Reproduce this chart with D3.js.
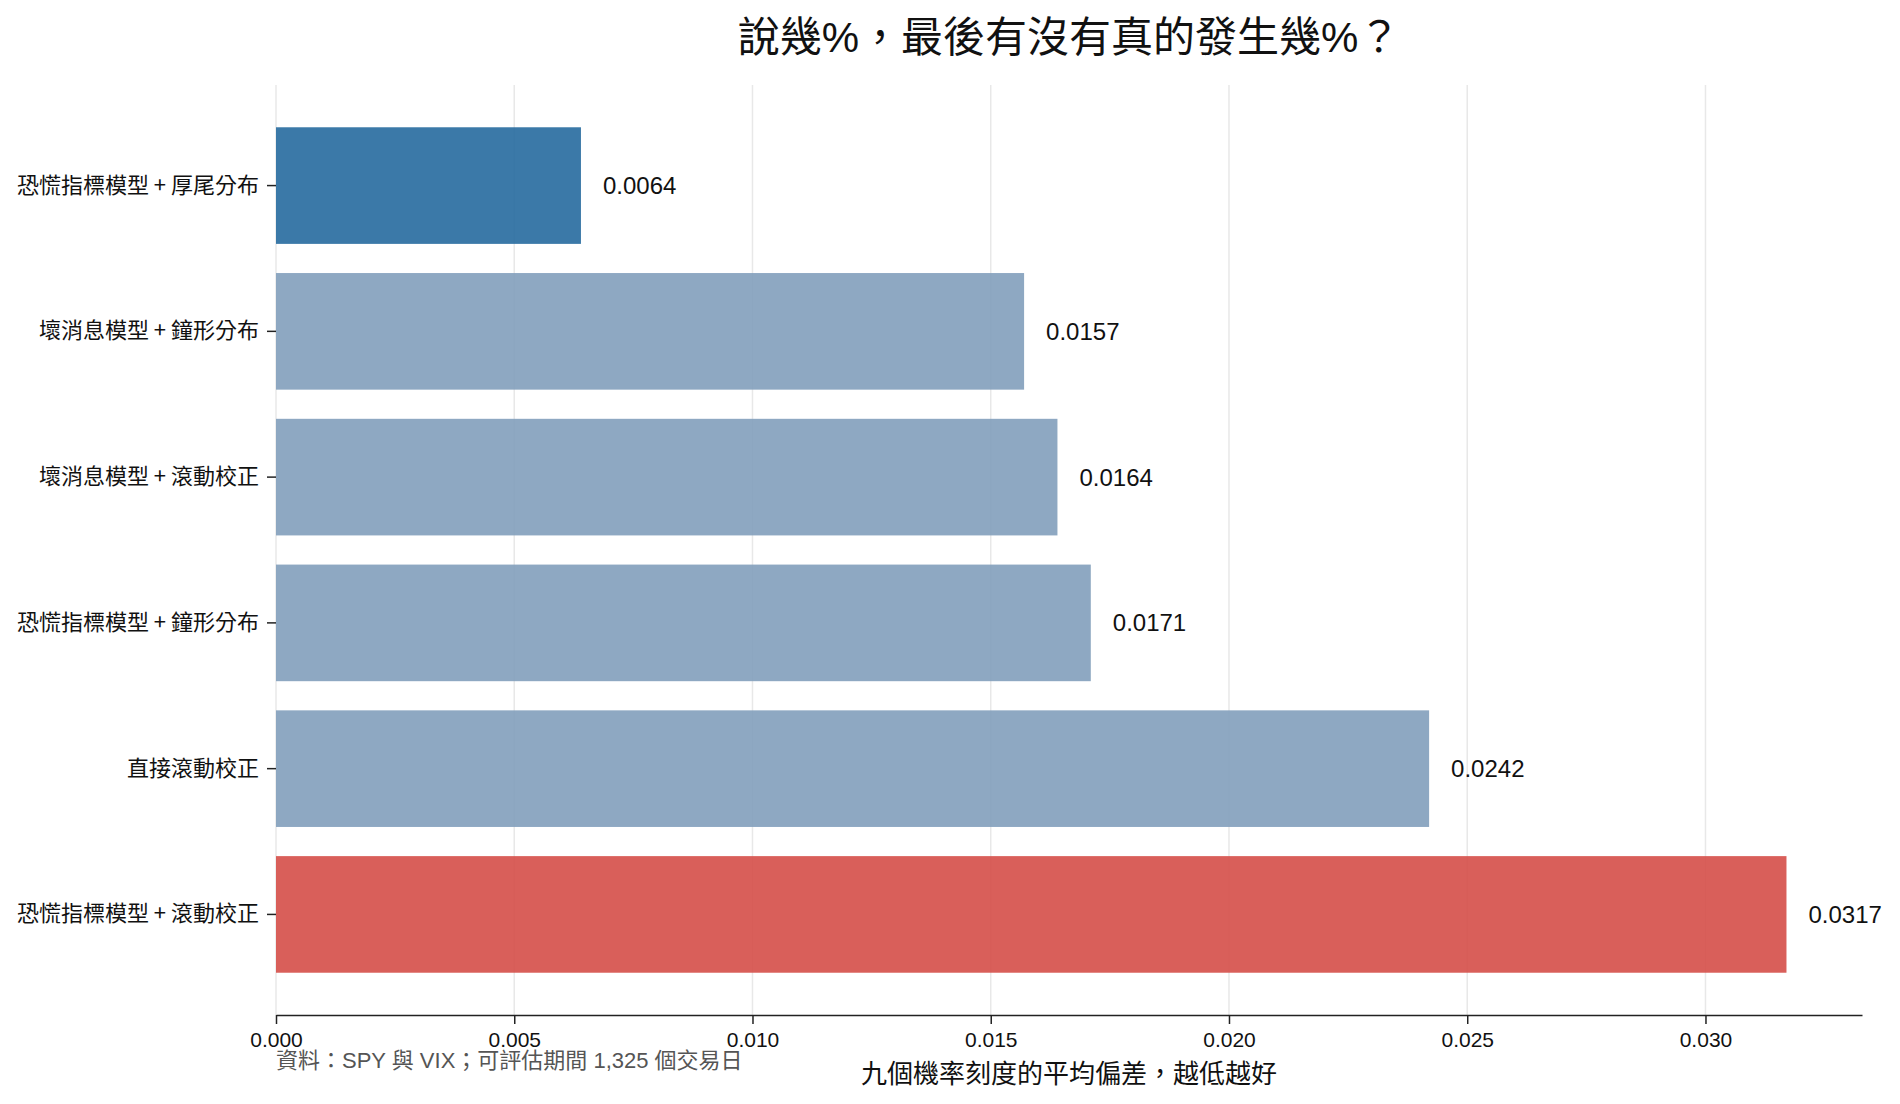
<!DOCTYPE html>
<html>
<head>
<meta charset="utf-8">
<script src="https://cdn.jsdelivr.net/npm/d3@7"></script>
<style>
  body { margin: 0; background: #fff; }
  svg { display: block; font-family: "Liberation Sans", Arial, "Noto Sans CJK TC", sans-serif; }
</style>
</head>
<body>
<svg width="1900" height="1104"></svg>
<script>
"use strict";

const categories = [
    "恐慌指標模型 + 厚尾分布",
    "壞消息模型 + 鐘形分布",
    "壞消息模型 + 滾動校正",
    "恐慌指標模型 + 鐘形分布",
    "直接滾動校正",
    "恐慌指標模型 + 滾動校正"
];
const values = [0.0064, 0.0157, 0.0164, 0.0171, 0.0242, 0.0317];
const groups = ["best", "mid", "mid", "mid", "mid", "worst"];
const xTicks = [0, 0.005, 0.010, 0.015, 0.020, 0.025, 0.030];

const title = "說幾%，最後有沒有真的發生幾%？";
const xLabel = "九個機率刻度的平均偏差，越低越好";
const source = "資料：SPY 與 VIX；可評估期間 1,325 個交易日";

const colorOf = { best: "#266a9f", mid: "#829fbb", worst: "#d54e48" };

const svg = d3.select("svg");
const margin = { top: 85, right: 38, bottom: 89, left: 276 };
const width = +svg.attr("width") - margin.left - margin.right;
const height = +svg.attr("height") - margin.top - margin.bottom;

const g = svg.append("g").attr("transform", `translate(${margin.left},${margin.top})`);

const xScale = d3.scaleLinear()
    .domain([0, d3.max(values) * 1.05])
    .range([0, width]);

const yScale = d3.scaleBand()
    .domain(categories)
    .range([0, height])
    .paddingInner(0.2)
    .paddingOuter(0.29);

// grid
g.selectAll(".grid")
    .data(xTicks)
    .enter().append("line")
    .attr("class", "grid")
    .attr("x1", d => xScale(d))
    .attr("x2", d => xScale(d))
    .attr("y1", 0)
    .attr("y2", height)
    .attr("stroke", "#e8e8e8")
    .attr("stroke-width", 1.5);

const data = categories.map((c, i) => ({ cat: c, val: values[i], grp: groups[i] }));

g.selectAll(".bar")
    .data(data)
    .enter().append("rect")
    .attr("class", "bar")
    .attr("x", xScale(0))
    .attr("y", d => yScale(d.cat))
    .attr("width", d => xScale(d.val) - xScale(0))
    .attr("height", yScale.bandwidth())
    .attr("fill", d => colorOf[d.grp])
    .attr("fill-opacity", 0.9);

g.selectAll(".value-text")
    .data(data)
    .enter().append("text")
    .attr("class", "value-text")
    .attr("x", d => xScale(d.val) + 22)
    .attr("y", d => yScale(d.cat) + yScale.bandwidth() / 2)
    .attr("dy", "0.35em")
    .attr("font-size", 24)
    .attr("fill", "#111")
    .text(d => d.val.toFixed(4));

// y axis (ticks + labels only)
const yAxis = g.append("g")
    .call(d3.axisLeft(yScale).tickSize(9).tickPadding(8));
yAxis.select(".domain").remove();
yAxis.selectAll("text")
    .attr("font-size", 22)
    .attr("fill", "#111")
    .attr("font-family", "'Noto Sans CJK TC', sans-serif");
yAxis.selectAll("line").attr("stroke", "#222").attr("stroke-width", 1.5);

// x axis
const xAxis = g.append("g")
    .attr("transform", `translate(0,${height})`)
    .call(d3.axisBottom(xScale).tickValues(xTicks).tickFormat(d3.format(".3f")).tickSize(9).tickSizeOuter(0).tickPadding(8));
xAxis.select(".domain").attr("stroke", "#222").attr("stroke-width", 1.5);
xAxis.selectAll("line").attr("stroke", "#222").attr("stroke-width", 1.5);
xAxis.selectAll("text").attr("font-size", 21).attr("fill", "#111");

svg.append("text")
    .attr("x", margin.left + width / 2)
    .attr("y", 52)
    .attr("text-anchor", "middle")
    .attr("font-size", 42)
    .attr("fill", "#111")
    .text(title);

svg.append("text")
    .attr("x", margin.left + width / 2)
    .attr("y", 1083)
    .attr("text-anchor", "middle")
    .attr("font-size", 26)
    .attr("fill", "#111")
    .text(xLabel);

svg.append("text")
    .attr("x", margin.left)
    .attr("y", 1068)
    .attr("font-size", 22)
    .attr("fill", "#555")
    .text(source);
</script>
</body>
</html>
